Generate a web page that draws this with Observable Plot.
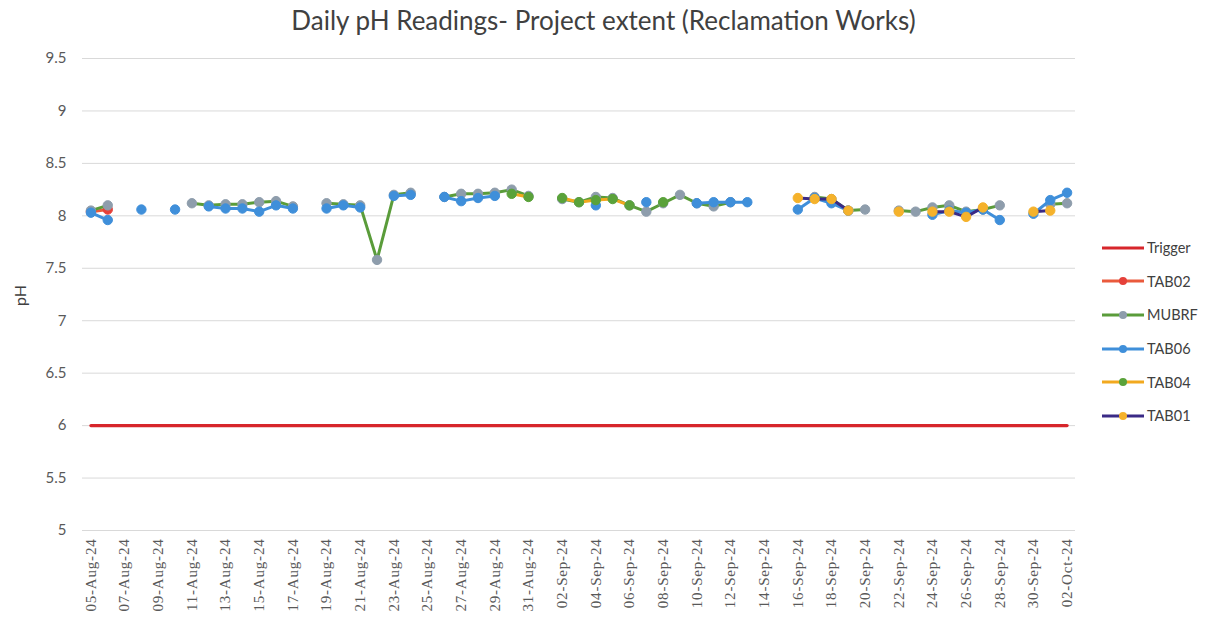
<!DOCTYPE html>
<html><head><meta charset="utf-8">
<script src="https://cdn.jsdelivr.net/npm/d3@7"></script>
<script src="https://cdn.jsdelivr.net/npm/@observablehq/plot@0.6"></script>
<style>
body{margin:0;background:#fff;font-family:Lato,"Open Sans",sans-serif;}
#wrap{position:relative;width:1207px;height:620px;overflow:hidden;}
#title{height:40px;line-height:40px;text-align:center;font-size:26px;color:#404040;white-space:nowrap;}
#ylabel{position:absolute;left:4px;top:286px;width:30px;text-align:center;font-size:16px;color:#404040;transform:rotate(-90deg);}
#legend{position:absolute;left:1102px;top:231px;}
.item{display:flex;align-items:center;height:33.6px;font-size:14.5px;color:#404040;}
.item svg{margin-right:3px;}
</style></head><body>
<div id="wrap">
<div id="title">Daily pH Readings- Project extent (Reclamation Works)</div>
<div id="chart"></div>
<div id="ylabel">pH</div>
<div id="legend"></div>
</div>
<script>
const dates = ["05-Aug-24","06-Aug-24","07-Aug-24","08-Aug-24","09-Aug-24","10-Aug-24","11-Aug-24","12-Aug-24","13-Aug-24","14-Aug-24","15-Aug-24","16-Aug-24","17-Aug-24","18-Aug-24","19-Aug-24","20-Aug-24","21-Aug-24","22-Aug-24","23-Aug-24","24-Aug-24","25-Aug-24","26-Aug-24","27-Aug-24","28-Aug-24","29-Aug-24","30-Aug-24","31-Aug-24","01-Sep-24","02-Sep-24","03-Sep-24","04-Sep-24","05-Sep-24","06-Sep-24","07-Sep-24","08-Sep-24","09-Sep-24","10-Sep-24","11-Sep-24","12-Sep-24","13-Sep-24","14-Sep-24","15-Sep-24","16-Sep-24","17-Sep-24","18-Sep-24","19-Sep-24","20-Sep-24","21-Sep-24","22-Sep-24","23-Sep-24","24-Sep-24","25-Sep-24","26-Sep-24","27-Sep-24","28-Sep-24","29-Sep-24","30-Sep-24","01-Oct-24","02-Oct-24"];
const xTickLabels = ["05-Aug-24","07-Aug-24","09-Aug-24","11-Aug-24","13-Aug-24","15-Aug-24","17-Aug-24","19-Aug-24","21-Aug-24","23-Aug-24","25-Aug-24","27-Aug-24","29-Aug-24","31-Aug-24","02-Sep-24","04-Sep-24","06-Sep-24","08-Sep-24","10-Sep-24","12-Sep-24","14-Sep-24","16-Sep-24","18-Sep-24","20-Sep-24","22-Sep-24","24-Sep-24","26-Sep-24","28-Sep-24","30-Sep-24","02-Oct-24"];
const yTickValues = [5, 5.5, 6, 6.5, 7, 7.5, 8, 8.5, 9, 9.5];
const triggerLevel = 6;
//               Aug05 06    07    08    09    10    11    12    13    14    15    16    17    18    19    20    21    22    23    24    25    26    27    28    29    30    31   Sep01  02    03    04    05    06    07    08    09    10    11    12    13    14    15    16    17    18    19    20    21    22    23    24    25    26    27    28    29    30   Oct01  02
const TAB02 = [8.04, 8.06, null, null, null, null, null, null, null, null, null, null, null, null, null, null, null, null, null, null, null, null, null, null, null, null, null, null, null, null, null, null, null, null, null, null, null, null, null, null, null, null, null, null, null, null, null, null, null, null, null, null, null, null, null, null, null, null, null];
const MUBRF = [8.05, 8.10, null, null, null, null, 8.12, 8.10, 8.11, 8.11, 8.13, 8.14, 8.09, null, 8.12, 8.11, 8.10, 7.58, 8.20, 8.22, null, 8.18, 8.21, 8.21, 8.22, 8.25, 8.19, null, 8.16, 8.13, 8.18, 8.17, 8.10, 8.04, 8.12, 8.20, 8.12, 8.09, 8.13, null, null, null, null, 8.18, 8.16, 8.05, 8.06, null, 8.05, 8.04, 8.08, 8.10, 8.04, 8.06, 8.10, null, null, 8.11, 8.12];
const TAB06 = [8.03, 7.96, null, 8.06, null, 8.06, null, 8.09, 8.07, 8.07, 8.04, 8.10, 8.07, null, 8.07, 8.10, 8.08, null, 8.19, 8.20, null, 8.18, 8.14, 8.17, 8.19, null, null, null, null, null, 8.10, null, null, 8.13, null, null, 8.12, 8.13, 8.13, 8.13, null, null, 8.06, 8.17, 8.12, 8.05, null, null, null, null, 8.01, 8.05, 8.03, 8.06, 7.96, null, 8.02, 8.15, 8.22];
const TAB04 = [null, null, null, null, null, null, null, null, null, null, null, null, null, null, null, null, null, null, null, null, null, null, null, null, null, 8.21, 8.18, null, 8.17, 8.13, 8.15, 8.16, 8.10, null, 8.13, null, null, null, null, null, null, null, null, null, null, null, null, null, null, null, null, null, null, null, null, null, null, null, null];
const TAB01 = [null, null, null, null, null, null, null, null, null, null, null, null, null, null, null, null, null, null, null, null, null, null, null, null, null, null, null, null, null, null, null, null, null, null, null, null, null, null, null, null, null, null, 8.17, 8.16, 8.16, 8.05, null, null, 8.04, null, 8.04, 8.04, 7.99, 8.08, null, null, 8.04, 8.05, null];

const series = [
  {name: "TAB02", values: TAB02, line: "#EA5A3C", marker: "#E5413A"},
  {name: "MUBRF", values: MUBRF, line: "#5A9C3A", marker: "#8E9DAC"},
  {name: "TAB06", values: TAB06, line: "#3F8FDA", marker: "#3F8FDA"},
  {name: "TAB04", values: TAB04, line: "#F2A91F", marker: "#5AA23A"},
  {name: "TAB01", values: TAB01, line: "#3A2A86", marker: "#F5B22B"}
];
const triggerColor = "#D7262B";

const triggerRows = dates.map(d => ({date: d, value: triggerLevel}));
const marks = [
  Plot.gridY(yTickValues, {stroke: "#d9d9d9", strokeOpacity: 1, strokeWidth: 1}),
  Plot.axisY(yTickValues, {tickSize: 0, tickPadding: 16, fontSize: 15, fill: "#595959", label: null, tickFormat: d => String(d), fontFamily: "Lato, 'Open Sans', sans-serif"}),
  Plot.axisX(xTickLabels, {tickSize: 0, tickPadding: 8, tickRotate: -90, fontSize: 15, fill: "#595959", label: null, fontFamily: "'Liberation Serif', serif"}),
  Plot.line(triggerRows, {x: "date", y: "value", stroke: triggerColor, strokeWidth: 3.2})
];
for (const s of series) {
  const rows = dates.map((d, i) => ({date: d, value: s.values[i]}));
  marks.push(Plot.line(rows, {x: "date", y: "value", stroke: s.line, strokeWidth: 3}));
  marks.push(Plot.dot(rows.filter(r => r.value != null), {x: "date", y: "value", r: 4.7, fill: s.marker, stroke: s.marker, strokeWidth: 1}));
}

const chart = Plot.plot({
  width: 1207,
  height: 580,
  marginLeft: 82,
  marginRight: 132,
  marginTop: 18,
  marginBottom: 90,
  style: {background: "#fff", overflow: "visible"},
  x: {type: "point", domain: dates, padding: 0.5},
  y: {domain: [5, 9.5]},
  marks
});
document.getElementById("chart").appendChild(chart);
d3.select(chart).selectAll("[aria-label='x-axis tick label'] text").attr("letter-spacing", "0.8px");

const legend = document.getElementById("legend");
const legendItems = [{name: "Trigger", line: triggerColor, marker: null}, ...series];
for (const it of legendItems) {
  const div = document.createElement("div");
  div.className = "item";
  const ns = "http://www.w3.org/2000/svg";
  const sv = document.createElementNS(ns, "svg");
  sv.setAttribute("width", 42); sv.setAttribute("height", 12);
  const ln = document.createElementNS(ns, "line");
  ln.setAttribute("x1", 0); ln.setAttribute("x2", 42); ln.setAttribute("y1", 6); ln.setAttribute("y2", 6);
  ln.setAttribute("stroke", it.line); ln.setAttribute("stroke-width", 3);
  sv.appendChild(ln);
  if (it.marker) {
    const c = document.createElementNS(ns, "circle");
    c.setAttribute("cx", 21); c.setAttribute("cy", 6); c.setAttribute("r", 4); c.setAttribute("fill", it.marker);
    sv.appendChild(c);
  }
  div.appendChild(sv);
  const t = document.createElement("span");
  t.textContent = it.name;
  div.appendChild(t);
  legend.appendChild(div);
}
</script>
</body></html>
